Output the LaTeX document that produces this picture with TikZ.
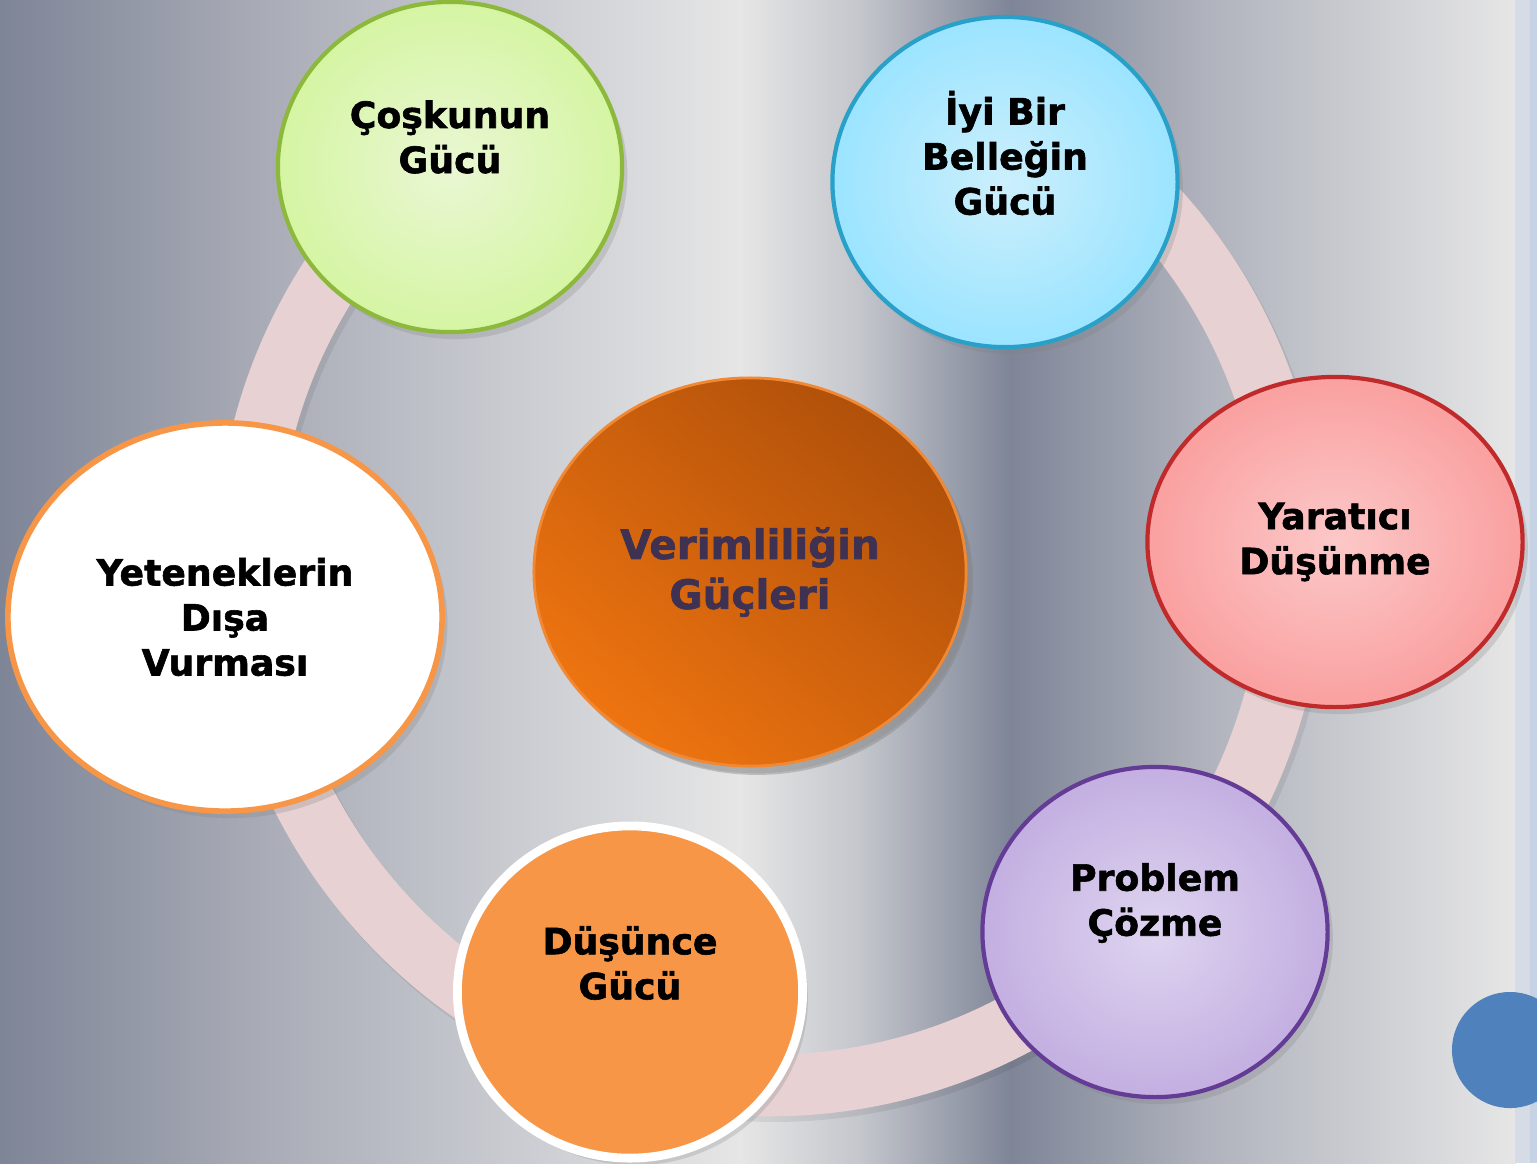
\documentclass[tikz,border=0pt]{standalone}
\usepackage{fontspec}
\setmainfont{DejaVu Sans}[BoldFeatures = {FakeBold = 1.6}]
\usepackage{tikz}
\usetikzlibrary{shapes.geometric, shadows}

\definecolor{bgA}{RGB}{126,133,151}
\definecolor{bgB}{RGB}{166,169,180}
\definecolor{bgC}{RGB}{200,202,208}
\definecolor{bgD}{RGB}{230,230,230}
\definecolor{bgE}{RGB}{196,198,204}
\definecolor{bgF}{RGB}{175,178,188}
\definecolor{stripA}{RGB}{213,220,229}
\definecolor{stripB}{RGB}{197,211,229}
\definecolor{ringpink}{RGB}{232,209,210}
\definecolor{cosin}{RGB}{234,247,212}
\definecolor{cosout}{RGB}{213,245,163}
\definecolor{cosline}{RGB}{140,185,60}
\definecolor{isein}{RGB}{204,239,252}
\definecolor{iseout}{RGB}{155,228,255}
\definecolor{iseline}{RGB}{40,160,200}
\definecolor{yarin}{RGB}{252,200,200}
\definecolor{yarout}{RGB}{250,160,160}
\definecolor{yarline}{RGB}{192,42,42}
\definecolor{proin}{RGB}{222,212,240}
\definecolor{proout}{RGB}{195,175,225}
\definecolor{proline}{RGB}{100,60,150}
\definecolor{dusfill}{RGB}{247,150,70}
\definecolor{midtop}{RGB}{176,80,10}
\definecolor{midbot}{RGB}{238,116,16}
\definecolor{midtext}{RGB}{63,49,81}
\definecolor{dotblue}{RGB}{79,129,189}

\begin{document}
\begin{tikzpicture}[x = 0.01cm, y = -0.01cm,
		pill/.style = {ellipse, inner sep = 0pt, minimum width = 3.45cm, minimum height = 3.30cm, line width = 1.2pt,
			drop shadow = {opacity = 0.25, shadow xshift = 1.5pt, shadow yshift = -2pt}},
		txt/.style = {font = \bfseries\fontsize{10.3}{12.8}\selectfont, align = center},
		ring/.style = {line width = 17.6pt, draw = ringpink}]
	\def\R{5.23cm};

	\useasboundingbox (0,0) rectangle (1537,1163);
	\clip (0,0) rectangle (1537,1163);

	\begin{scope}
		\foreach \xa/\xb/\ca/\cb in {0/240/bgA/bgB, 240/500/bgB/bgC, 500/740/bgC/bgD, 740/860/bgD/bgE, 860/1010/bgE/bgA, 1010/1200/bgA/bgF, 1200/1515/bgF/bgD}
			\shade [left color = \ca, right color = \cb] (\xa,0) rectangle (\xb+1,1163);
		\fill [stripA] (1515,0) rectangle (1531,1163);
		\fill [stripB] (1530,0) rectangle (1537,1163);
	\end{scope}

	\coordinate (hub) at (770,562);
	\draw [ring, draw = black, opacity = 0.07, transform canvas = {shift = {(1.2pt,-1.6pt)}}] ([shift = {(129:\R)}] hub) arc [start angle = 129, end angle = 418, radius = \R];
	\draw [ring] ([shift = {(129:\R)}] hub) arc [start angle = 129, end angle = 418, radius = \R];

	\node [pill, draw = cosline, inner color = cosin, outer color = cosout, minimum width = 3.44cm,
		label = {[txt, yshift = 0.3cm]center:Çoşkunun\\Gücü}] (cos) at (450,167) {};
	\node [pill, draw = iseline, inner color = isein, outer color = iseout,
		label = {[txt, yshift = 0.29cm]center:İyi Bir\\Belleğin\\Gücü}] (ise) at (1005,182) {};
	\node [pill, draw = yarline, inner color = yarin, outer color = yarout, minimum width = 3.75cm, txt] (yar) at (1335,542) {Yaratıcı\\Düşünme};
	\node [pill, draw = proline, inner color = proin, outer color = proout,
		label = {[txt, yshift = 0.29cm]center:Problem\\Çözme}] (pro) at (1155,932) {};
	\node [pill, draw = white, line width = 2.5pt, fill = dusfill, minimum height = 3.32cm,
		label = {[txt, yshift = 0.29cm]center:Düşünce\\Gücü}] (dus) at (630,992) {};
	\node [pill, draw = dusfill, line width = 1.6pt, fill = white, minimum width = 4.34cm, minimum height = 3.88cm, txt] (yet) at (225,617) {Yeteneklerin\\Dışa\\Vurması};

	\node [pill, draw = midbot!85!white, line width = 0.8pt, top color = midtop, bottom color = midbot, shading angle = -40,
		minimum width = 4.32cm, minimum height = 3.88cm, drop shadow = {opacity = 0.4, shadow xshift = 2pt, shadow yshift = -2.5pt},
		font = \bfseries\fontsize{11.5}{14.2}\selectfont, align = center, text = midtext] (mid) at (750,572) {Verimliliğin\\Güçleri};

	\node [circle, inner sep = 0pt, fill = dotblue, minimum size = 1.16cm] (dot) at (1510,1050) {};
\end{tikzpicture}
\end{document}
